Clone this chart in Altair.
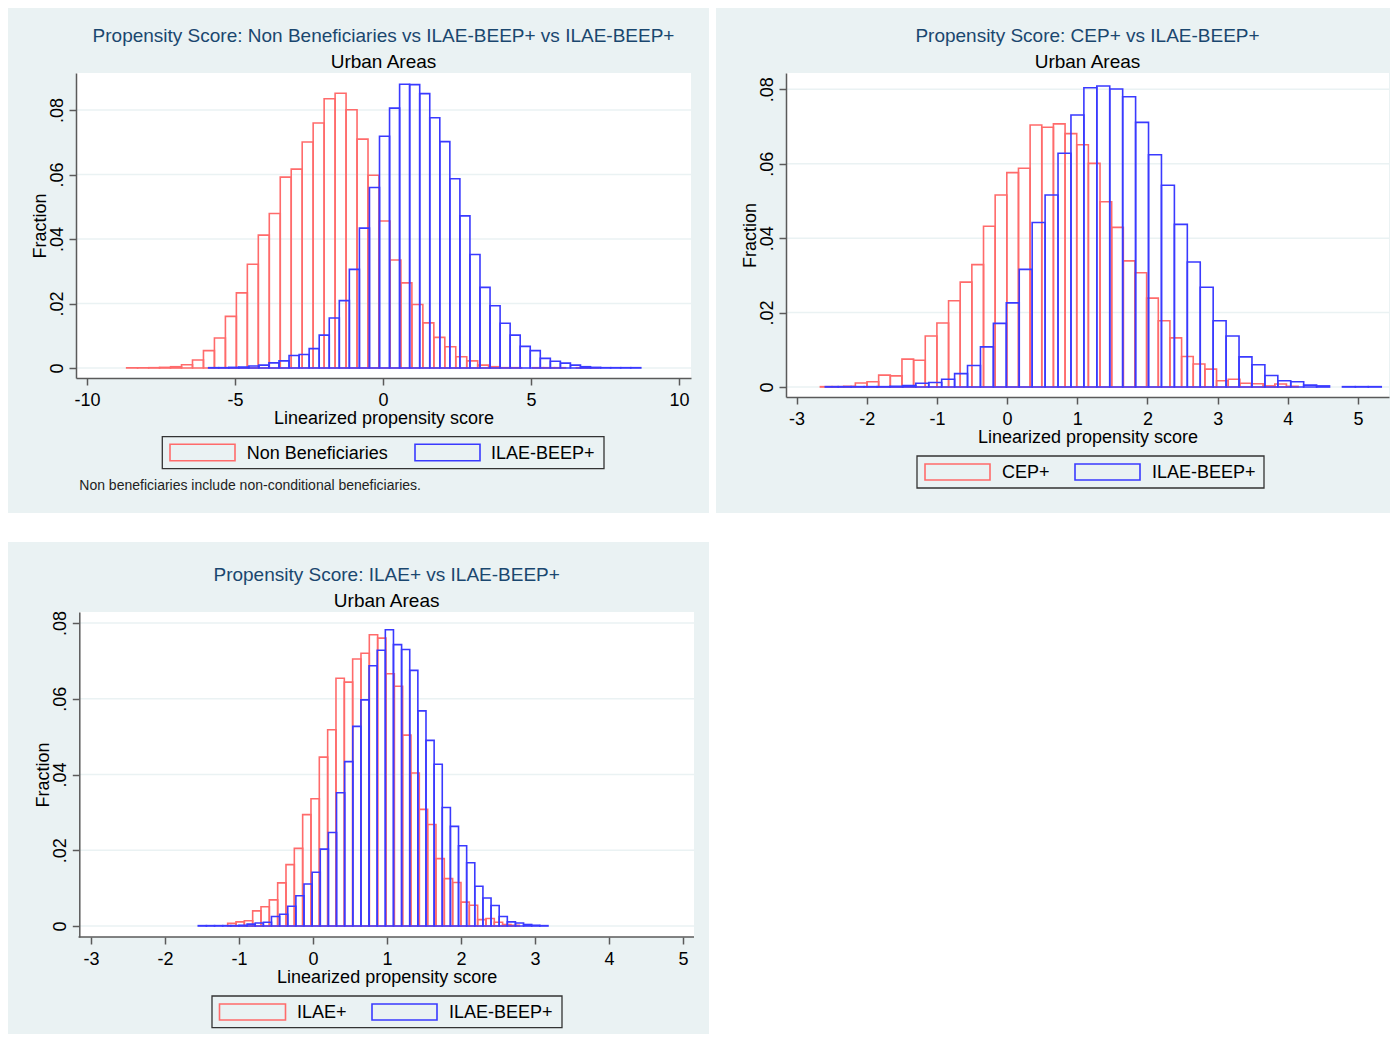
import altair as alt
import pandas as pd

FONT = "Liberation Sans"
BG = "#eaf2f3"
AX = "#5a5a5a"
RED = "#ff6b6b"
BLUE = "#3a3aff"
NAVY = "#1a476f"

X_TITLE = "Linearized propensity score"
Y_TITLE = "Fraction"
SUBTITLE = "Urban Areas"
Y_TICKS = [0, 0.02, 0.04, 0.06, 0.08]
Y_LABELS = ["0", ".02", ".04", ".06", ".08"]

# ---------------- Panel 1 ----------------
P1_TITLE = "Propensity Score: Non Beneficiaries vs ILAE-BEEP+ vs ILAE-BEEP+"
P1_SERIES = ["Non Beneficiaries", "ILAE-BEEP+"]
P1_NOTE = "Non beneficiaries include non-conditional beneficiaries."
P1_XTICKS = [-10, -5, 0, 5, 10]
P1_XLABELS = ["-10", "-5", "0", "5", "10"]
P1_RED_START, P1_RED_WIDTH = -8.66, 0.3706
P1_RED = [0.0001, 0.0001, 0.0001, 0.0002, 0.0004, 0.001, 0.0025, 0.0054, 0.0093, 0.016,
          0.0233, 0.0322, 0.0412, 0.0479, 0.0592, 0.0617, 0.0701, 0.076, 0.0835, 0.0852,
          0.0801, 0.071, 0.0598, 0.0456, 0.0335, 0.0264, 0.0197, 0.014, 0.0095, 0.0066,
          0.0035, 0.0022, 0.0009, 0.0004, 0.0001, 0.0001, 0.0, 0.0001, 0.0001, 0.0001,
          0.0, 0.0001, 0.0001]
P1_BLUE_START, P1_BLUE_WIDTH = -5.89, 0.3395
P1_BLUE = [0.0001, 0.0001, 0.0002, 0.0003, 0.0006, 0.0009, 0.0016, 0.0022, 0.0039, 0.0042,
           0.006, 0.0102, 0.0155, 0.0209, 0.0306, 0.0434, 0.056, 0.0719, 0.0806, 0.088,
           0.0879, 0.0851, 0.0776, 0.0702, 0.0587, 0.0472, 0.0352, 0.025, 0.0193, 0.0139,
           0.0102, 0.0067, 0.0054, 0.003, 0.0021, 0.0015, 0.0009, 0.0004, 0.0002, 0.0001,
           0.0001, 0.0001, 0.0001]

# ---------------- Panel 2 ----------------
P2_TITLE = "Propensity Score: CEP+ vs ILAE-BEEP+"
P2_SERIES = ["CEP+", "ILAE-BEEP+"]
P2_XTICKS = [-3, -2, -1, 0, 1, 2, 3, 4, 5]
P2_XLABELS = ["-3", "-2", "-1", "0", "1", "2", "3", "4", "5"]
P2_RED_START, P2_RED_WIDTH = -2.66, 0.166
P2_RED = [0.0001, 0.0001, 0.0002, 0.0011, 0.0014, 0.0032, 0.003, 0.0075, 0.0072, 0.0137,
          0.0172, 0.0232, 0.0282, 0.0329, 0.0432, 0.0516, 0.0576, 0.0588, 0.0704, 0.0698,
          0.0707, 0.0681, 0.0651, 0.0601, 0.0498, 0.0429, 0.0339, 0.0307, 0.0239, 0.0178,
          0.0132, 0.0082, 0.0062, 0.0048, 0.0017, 0.0021, 0.001, 0.0009, 0.0003, 0.0008,
          0.0002]
P2_BLUE_START, P2_BLUE_WIDTH = -2.59, 0.1842
P2_BLUE = [0.0001, 0.0001, 0.0001, 0.0001, 0.0001, 0.0002, 0.0004, 0.001, 0.0012, 0.0021,
           0.0036, 0.0058, 0.0108, 0.0171, 0.0226, 0.0316, 0.0442, 0.0516, 0.0628, 0.0731,
           0.0804, 0.0809, 0.0801, 0.078, 0.0711, 0.0624, 0.0542, 0.0437, 0.0336, 0.0268,
           0.0178, 0.0137, 0.0081, 0.006, 0.0031, 0.0017, 0.0014, 0.0005, 0.0003, 0.0,
           0.0001, 0.0001, 0.0001]

# ---------------- Panel 3 ----------------
P3_TITLE = "Propensity Score: ILAE+ vs ILAE-BEEP+"
P3_SERIES = ["ILAE+", "ILAE-BEEP+"]
P3_XTICKS = [-3, -2, -1, 0, 1, 2, 3, 4, 5]
P3_XLABELS = ["-3", "-2", "-1", "0", "1", "2", "3", "4", "5"]
P3_RED_START, P3_RED_WIDTH = -1.153, 0.1126
P3_RED = [0.0007, 0.0011, 0.0014, 0.004, 0.0051, 0.0069, 0.0114, 0.0162, 0.0205, 0.0294,
          0.0336, 0.0446, 0.0518, 0.0654, 0.0644, 0.0705, 0.072, 0.0769, 0.076, 0.0666,
          0.0633, 0.0504, 0.0404, 0.0308, 0.0268, 0.0178, 0.0125, 0.0115, 0.0063, 0.0055,
          0.0017, 0.002, 0.001, 0.0004, 0.0002]
P3_BLUE_START, P3_BLUE_WIDTH = -1.55, 0.1099
P3_BLUE = [0.0001, 0.0001, 0.0001, 0.0001, 0.0001, 0.0002, 0.0005, 0.0008, 0.001, 0.0025,
           0.0031, 0.0052, 0.008, 0.0111, 0.0142, 0.0203, 0.0247, 0.0352, 0.0434, 0.0527,
           0.0597, 0.0687, 0.0728, 0.0782, 0.0743, 0.073, 0.0675, 0.0568, 0.049, 0.0427,
           0.0313, 0.0263, 0.0212, 0.0167, 0.0105, 0.0074, 0.0054, 0.0025, 0.0011, 0.0008,
           0.0004, 0.0002, 0.0001]


def bars_df(start, width, vals):
    rows = [{"x0": start + i * width, "x1": start + (i + 1) * width, "v": v}
            for i, v in enumerate(vals) if v > 0]
    return pd.DataFrame(rows)


def label_expr(values, labels):
    parts = [f"abs(datum.value - ({v})) < 1e-6 ? '{l}' : " for v, l in zip(values, labels)]
    return "".join(parts) + "''"


ONE = pd.DataFrame({"k": [0]})


def box(x1, x2, y1, y2, **mark):
    return alt.Chart(ONE).mark_rect(**mark).encode(
        x=alt.value(x1), x2=alt.value(x2), y=alt.value(y1), y2=alt.value(y2))


def text(t, x, y, size, color="black", align="center"):
    return alt.Chart(pd.DataFrame({"t": [t]})).mark_text(
        font=FONT, fontSize=size, color=color, align=align, baseline="alphabetic"
    ).encode(text="t:N", x=alt.value(x), y=alt.value(y))


def panel(cfg):
    W, H = cfg["W"], cfg["H"]
    L = cfg.get("left", 0)          # inset of the plot frame inside the view
    xs = alt.Scale(domain=cfg["xdom"], nice=False, zero=False)
    ys = alt.Scale(domain=cfg["ydom"], nice=False, zero=False)
    common = dict(grid=False, domainColor=AX, domainWidth=1.5, tickColor=AX, tickWidth=1.5,
                  tickSize=7, labelFont=FONT, labelFontSize=18, labelColor="black",
                  labelFlush=False, labelOverlap=False, titleFont=FONT, titleFontSize=18,
                  titleFontWeight="normal", titleColor="black", zindex=1)
    xaxis = alt.Axis(values=cfg["xticks"], labelExpr=label_expr(cfg["xticks"], cfg["xlabels"]),
                     title=X_TITLE, labelAngle=0, labelBaseline="alphabetic", labelPadding=20.7,
                     titleX=(L + W) / 2, titleY=45.3, titleAlign="center",
                     titleBaseline="alphabetic", domain=(L == 0), **common)
    yopts = dict(offset=-L) if L else {}
    yaxis = alt.Axis(values=Y_TICKS, labelExpr=label_expr(Y_TICKS, Y_LABELS), title=Y_TITLE,
                     labelAngle=270, labelAlign="center", labelBaseline="alphabetic",
                     labelPadding=7, titleAngle=270, titleX=-31, titleY=H / 2,
                     titleAlign="center", titleBaseline="alphabetic", **yopts, **common)

    bg = box(*cfg["bg"], color=BG)
    white = box(L, W, 0, H, color="white")
    grid = alt.Chart(pd.DataFrame({"v": Y_TICKS})).mark_rule(color=BG, strokeWidth=1.5).encode(
        y=alt.Y("v:Q", scale=ys, axis=yaxis), x=alt.value(L), x2=alt.value(W))
    red = alt.Chart(bars_df(*cfg["red"])).mark_rect(filled=False, color=RED, strokeWidth=1.6).encode(
        x=alt.X("x0:Q", scale=xs, axis=xaxis), x2="x1:Q",
        y=alt.Y("v:Q", scale=ys, axis=yaxis), y2=alt.datum(0))
    blue = alt.Chart(bars_df(*cfg["blue"])).mark_rect(filled=False, color=BLUE, strokeWidth=1.6).encode(
        x=alt.X("x0:Q", scale=xs, axis=xaxis), x2="x1:Q",
        y=alt.Y("v:Q", scale=ys, axis=yaxis), y2=alt.datum(0))
    layers = [bg, white, grid, red, blue]
    if L:
        # x-axis line starting at the (inset) y-axis
        layers.append(alt.Chart(ONE).mark_rule(color=AX, strokeWidth=1.5).encode(
            x=alt.value(L - 0.75), x2=alt.value(W), y=alt.value(H)))

    lx1, lx2, ly1, ly2 = cfg["legbox"]
    r1, r2, b1, b2 = cfg["swatch_x"]
    sy1, sy2 = cfg["swatch_y"]
    t1, t2 = cfg["legtext_x"]
    legend = [
        box(lx1, lx2, ly1, ly2, filled=False, color="#333333", strokeWidth=1.3),
        box(r1, r2, sy1, sy2, filled=False, color=RED, strokeWidth=1.6),
        box(b1, b2, sy1, sy2, filled=False, color=BLUE, strokeWidth=1.6),
        text(cfg["series"][0], t1, cfg["legtext_y"], 18, align="left"),
        text(cfg["series"][1], t2, cfg["legtext_y"], 18, align="left"),
    ]
    ty = cfg.get("title_y", (-31.5, -5.5))
    titles = [
        text(cfg["title"], (L + W) / 2, ty[0], 19, color=NAVY),
        text(SUBTITLE, (L + W) / 2, ty[1], 19),
    ]
    extra = []
    if cfg.get("note"):
        extra.append(text(cfg["note"], 3.3, 417, 14, color="#222222", align="left"))
    return alt.layer(*layers, *legend, *titles, *extra).properties(width=W, height=H)


p1 = panel(dict(
    W=615, H=305, xdom=[-10.372, 10.405], ydom=[-0.0031, 0.0915],
    xticks=P1_XTICKS, xlabels=P1_XLABELS,
    red=(P1_RED_START, P1_RED_WIDTH, P1_RED), blue=(P1_BLUE_START, P1_BLUE_WIDTH, P1_BLUE),
    bg=(-68, 633, -65, 440), title=P1_TITLE, series=P1_SERIES, note=P1_NOTE,
    legbox=(86.3, 528, 363.7, 395.7), swatch_x=(94, 159, 339, 404), swatch_y=(371.3, 387.7),
    legtext_x=(170.7, 415), legtext_y=386,
))

p2 = panel(dict(
    W=603, H=324, xdom=[-3.15, 5.441], ydom=[-0.00268, 0.08438],
    xticks=P2_XTICKS, xlabels=P2_XLABELS,
    red=(P2_RED_START, P2_RED_WIDTH, P2_RED), blue=(P2_BLUE_START, P2_BLUE_WIDTH, P2_BLUE),
    bg=(-70, 604, -65, 440), title=P2_TITLE, series=P2_SERIES, title_y=(-31, -5),
    legbox=(131, 478, 383, 415), swatch_x=(139, 204, 289, 354), swatch_y=(391, 407),
    legtext_x=(216, 366), legtext_y=405.4,
))

p3 = panel(dict(
    W=618, H=325, left=3.3, xdom=[-3.2026, 5.149], ydom=[-0.0029, 0.0829],
    xticks=P3_XTICKS, xlabels=P3_XLABELS,
    red=(P3_RED_START, P3_RED_WIDTH, P3_RED), blue=(P3_BLUE_START, P3_BLUE_WIDTH, P3_BLUE),
    bg=(-68, 633, -70, 422), title=P3_TITLE, series=P3_SERIES,
    legbox=(136, 486, 384, 415.7), swatch_x=(143.5, 209.5, 296, 361), swatch_y=(392, 408),
    legtext_x=(221, 373), legtext_y=406.4,
))

chart = alt.concat(
    p1, p2, p3,
    columns=2,
    align="none",
    spacing={"row": 29, "column": 7},
).properties(padding=0, background="white").configure_view(strokeWidth=0)

chart.save("out.html", embed_options={"renderer": "svg", "actions": False})
